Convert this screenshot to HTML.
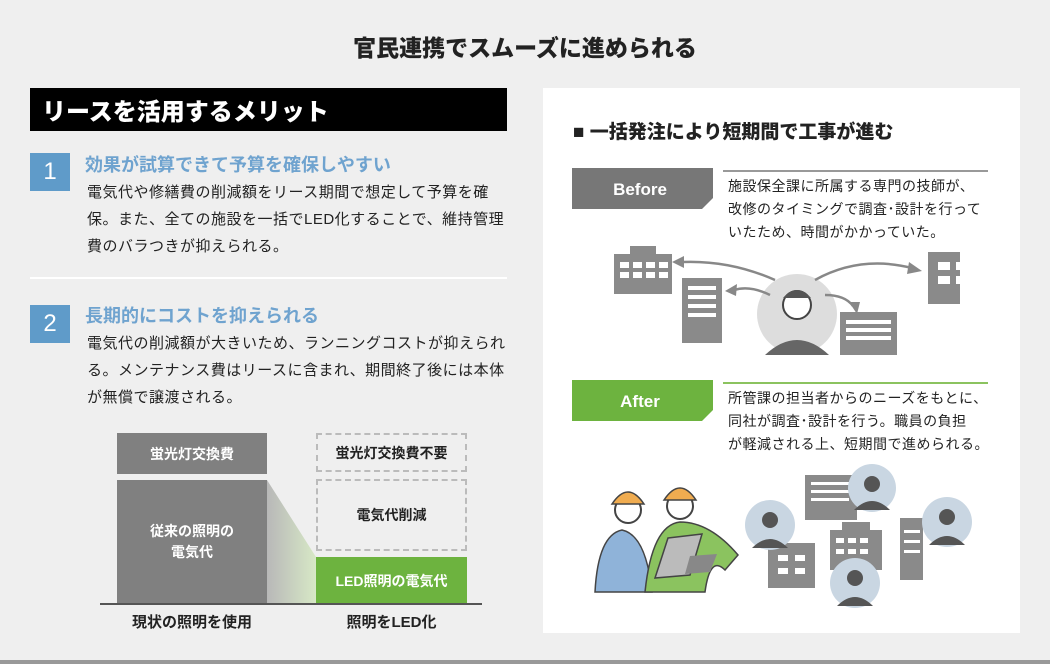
<!DOCTYPE html>
<html><head><meta charset="utf-8"><style>
*{margin:0;padding:0;box-sizing:border-box}
body{width:1050px;height:664px;background:#efefef;font-family:"Liberation Sans","Noto Sans CJK JP",sans-serif;position:relative;overflow:hidden;color:#222}
.a{position:absolute;white-space:nowrap}
.b{font-weight:bold}
.body{font-size:15px;line-height:27px;color:#222;letter-spacing:0.5px}
.num{position:absolute;width:40px;height:38px;background:#5f9bc9;color:#fff;font-size:24px;text-align:center;line-height:38px}
.h{font-size:18px;font-weight:bold;color:#6fa3cf}
.gb{position:absolute;background:#808080;color:#fff;font-weight:bold;font-size:14px;text-align:center;display:flex;align-items:center;justify-content:center}
.db{position:absolute;border:2px dashed #bbb;font-weight:bold;font-size:14px;display:flex;align-items:center;justify-content:center;color:#222}
.rt{font-size:14px;line-height:23px;color:#222;letter-spacing:0.5px}
</style></head><body>
<div class="a" style="left:0;width:1050px;text-align:center;top:29px;font-size:23px;font-weight:900">官民連携でスムーズに進められる</div>
<div class="a" style="left:30px;top:88px;width:477px;height:43px;background:#000"></div>
<div class="a" style="left:42px;top:92px;font-size:24px;font-weight:900;color:#fff">リースを活用するメリット</div>

<div class="num" style="left:30px;top:153px">1</div>
<div class="a h" style="left:85px;top:151px">効果が試算できて予算を確保しやすい</div>
<div class="a body" style="left:87px;top:179px">電気代や修繕費の削減額をリース期間で想定して予算を確<br>保。また、全ての施設を一括でLED化することで、維持管理<br>費のバラつきが抑えられる。</div>
<div class="a" style="left:30px;top:277px;width:477px;height:2px;background:#fff"></div>

<div class="num" style="left:30px;top:305px">2</div>
<div class="a h" style="left:85px;top:302px">長期的にコストを抑えられる</div>
<div class="a body" style="left:87px;top:330px">電気代の削減額が大きいため、ランニングコストが抑えられ<br>る。メンテナンス費はリースに含まれ、期間終了後には本体<br>が無償で譲渡される。</div>

<div class="gb" style="left:117px;top:433px;width:150px;height:41px">蛍光灯交換費</div>
<div class="gb" style="left:117px;top:480px;width:150px;height:124px;line-height:21px">従来の照明の<br>電気代</div>
<svg class="a" style="left:267px;top:480px" width="50" height="124"><defs><linearGradient id="g" x1="0" x2="1"><stop offset="0" stop-color="#b8b8b8"/><stop offset="1" stop-color="#d7e8c6"/></linearGradient></defs><polygon points="0,0 49,77 49,124 0,124" fill="url(#g)"/></svg>
<div class="db" style="left:316px;top:433px;width:151px;height:39px">蛍光灯交換費不要</div>
<div class="db" style="left:316px;top:479px;width:151px;height:72px">電気代削減</div>
<div class="gb" style="left:316px;top:557px;width:151px;height:47px;background:#6db33f">LED照明の電気代</div>
<div class="a" style="left:100px;top:603px;width:382px;height:2px;background:#555"></div>
<div class="a b" style="left:117px;top:611px;width:150px;text-align:center;font-size:15px">現状の照明を使用</div>
<div class="a b" style="left:316px;top:611px;width:151px;text-align:center;font-size:15px">照明をLED化</div>
<div class="a" style="left:0;top:660px;width:1050px;height:4px;background:#999"></div>

<div class="a" style="left:543px;top:88px;width:477px;height:545px;background:#fff"></div>
<div class="a" style="left:573px;top:117px;font-size:19px;font-weight:900">■ 一括発注により短期間で工事が進む</div>

<svg class="a" style="left:572px;top:168px" width="141" height="41"><polygon points="0,0 141,0 141,30 130,41 0,41" fill="#777"/><text x="68" y="27" font-size="17" font-weight="bold" fill="#fff" text-anchor="middle" font-family="Liberation Sans,sans-serif">Before</text></svg>
<div class="a" style="left:723px;top:170px;width:265px;height:2px;background:#999"></div>
<div class="a rt" style="left:728px;top:175px">施設保全課に所属する専門の技師が、<br>改修のタイミングで調査･設計を行って<br>いたため、時間がかかっていた。</div>

<svg class="a" style="left:600px;top:240px" width="360" height="115">
<g fill="#8a8a8a">
<rect x="14" y="14" width="58" height="40"/><rect x="30" y="6" width="26" height="10"/>
<rect x="82" y="38" width="40" height="65"/>
<rect x="240" y="72" width="57" height="48"/>
<rect x="328" y="12" width="52" height="52"/>
</g>
<g fill="#fff">
<rect x="20" y="22" width="9" height="6"/><rect x="33" y="22" width="9" height="6"/><rect x="46" y="22" width="9" height="6"/><rect x="59" y="22" width="9" height="6"/>
<rect x="20" y="32" width="9" height="6"/><rect x="33" y="32" width="9" height="6"/><rect x="46" y="32" width="9" height="6"/><rect x="59" y="32" width="9" height="6"/>
<rect x="88" y="46" width="28" height="4"/><rect x="88" y="55" width="28" height="4"/><rect x="88" y="64" width="28" height="4"/><rect x="88" y="73" width="28" height="4"/>
<rect x="246" y="80" width="45" height="4"/><rect x="246" y="88" width="45" height="4"/><rect x="246" y="96" width="45" height="4"/>
<rect x="338" y="22" width="12" height="8"/><rect x="356" y="22" width="12" height="8"/><rect x="338" y="36" width="12" height="8"/><rect x="356" y="36" width="12" height="8"/>
</g>
<circle cx="197" cy="74" r="40" fill="#ddd"/>
<circle cx="197" cy="65" r="14" fill="#fff" stroke="#444" stroke-width="2"/>
<path d="M183 58 Q197 42 211 58Z" fill="#555"/>
<path d="M165 115 Q197 85 229 115Z" fill="#666"/>
<g fill="none" stroke="#888" stroke-width="2.5">
<path d="M175 40 Q130 20 82 22"/><path d="M170 55 Q150 45 134 50"/><path d="M215 40 Q260 15 312 28"/><path d="M225 55 Q245 55 253 66"/>
</g>
<g fill="#888"><polygon points="72,22 84,16 84,28"/><polygon points="125,51 137,44 136,56"/><polygon points="322,31 309,22 307,34"/><polygon points="257,74 249,62 260,62"/></g>
</svg>

<svg class="a" style="left:572px;top:380px" width="141" height="41"><polygon points="0,0 141,0 141,30 130,41 0,41" fill="#6db33f"/><text x="68" y="27" font-size="17" font-weight="bold" fill="#fff" text-anchor="middle" font-family="Liberation Sans,sans-serif">After</text></svg>
<div class="a" style="left:723px;top:382px;width:265px;height:2px;background:#8bc35f"></div>
<div class="a rt" style="left:728px;top:387px">所管課の担当者からのニーズをもとに、<br>同社が調査･設計を行う。職員の負担<br>が軽減される上、短期間で進められる。</div>

<svg class="a" style="left:580px;top:460px" width="420" height="150">
<g fill="#8a8a8a">
<rect x="225" y="15" width="52" height="45"/>
<rect x="188" y="83" width="47" height="45"/>
<rect x="250" y="70" width="52" height="40"/><rect x="262" y="62" width="28" height="10"/>
<rect x="320" y="58" width="23" height="62"/>
</g>
<g fill="#fff">
<rect x="231" y="22" width="38" height="3"/><rect x="231" y="30" width="38" height="3"/><rect x="231" y="38" width="38" height="3"/>
<rect x="198" y="95" width="10" height="6"/><rect x="215" y="95" width="10" height="6"/><rect x="198" y="108" width="10" height="6"/><rect x="215" y="108" width="10" height="6"/>
<rect x="256" y="78" width="8" height="5"/><rect x="268" y="78" width="8" height="5"/><rect x="280" y="78" width="8" height="5"/><rect x="256" y="89" width="8" height="5"/><rect x="268" y="89" width="8" height="5"/><rect x="280" y="89" width="8" height="5"/>
<rect x="324" y="70" width="16" height="3"/><rect x="324" y="80" width="16" height="3"/><rect x="324" y="90" width="16" height="3"/>
</g>
<g fill="#c9d6e2">
<circle cx="292" cy="28" r="24"/><circle cx="190" cy="65" r="25"/><circle cx="367" cy="62" r="25"/><circle cx="275" cy="123" r="25"/>
</g>
<g fill="#555">
<circle cx="292" cy="24" r="8"/><path d="M274 50 Q292 32 310 50Z"/>
<circle cx="190" cy="60" r="8"/><path d="M172 88 Q190 70 208 88Z"/>
<circle cx="367" cy="57" r="8"/><path d="M349 85 Q367 67 385 85Z"/>
<circle cx="275" cy="118" r="8"/><path d="M257 146 Q275 128 293 146Z"/>
</g>
<path d="M15 132 Q18 75 42 70 Q66 75 72 132Z" fill="#8fb3d9" stroke="#444" stroke-width="1.5"/>
<path d="M65 132 Q72 65 100 62 Q130 62 158 95 L145 110 Q130 95 125 132Z" fill="#8bc35f" stroke="#444" stroke-width="1.5"/>
<circle cx="48" cy="50" r="13" fill="#fff" stroke="#444" stroke-width="2"/><circle cx="100" cy="46" r="13" fill="#fff" stroke="#444" stroke-width="2"/>
<path d="M32 44 Q48 20 64 44Z" fill="#f0ac50" stroke="#444" stroke-width="1.5"/><path d="M84 40 Q100 16 116 40Z" fill="#f0ac50" stroke="#444" stroke-width="1.5"/>
<polygon points="88,78 122,74 110,115 75,118" fill="#bbb" stroke="#444" stroke-width="1.5"/>
<polygon points="110,96 137,94 130,112 105,114" fill="#888"/>
</svg>
</body></html>
